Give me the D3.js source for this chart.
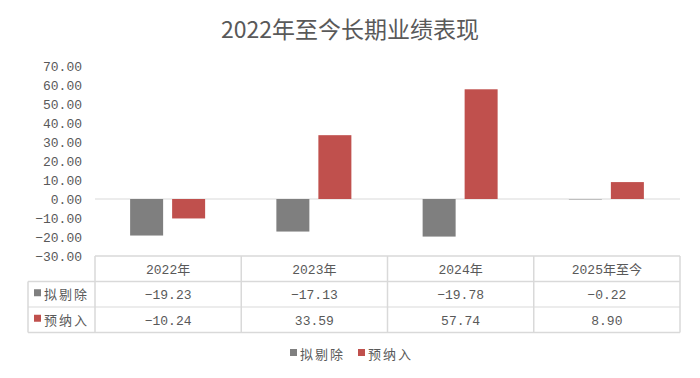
<!DOCTYPE html>
<html>
<head>
<meta charset="utf-8">
<script src="https://cdn.jsdelivr.net/npm/d3@7"></script>
<style>
  body { margin: 0; background: #fff; }
  text { font-family: "Liberation Mono", "Noto Sans CJK SC", monospace; fill: #595959; }
  .cjk { font-family: "Noto Sans CJK SC", sans-serif; }
</style>
</head>
<body>
<svg id="chart"></svg>
<script>
// Data
const categories = ['2022年', '2023年', '2024年', '2025年至今'];
const seriesNames = ['拟剔除', '预纳入'];
const excludeValues = [-19.23, -17.13, -19.78, -0.22];
const includeValues = [-10.24, 33.59, 57.74, 8.90];
const yTicks = [-30, -20, -10, 0, 10, 20, 30, 40, 50, 60, 70];
const colors = ['#7f7f7f', '#c0504d'];

const width = 700;
const height = 378;

// Plot area
const plot = { left: 95, right: 680, top: 66, bottom: 256 };
const rowHeight = 25.5;

// number format with a long minus sign
const fmt = d => d.toFixed(2).replace('-', '\u2212');

const svg = d3.select('#chart')
    .attr('width', width)
    .attr('height', height);

// Title
svg.append('text')
    .attr('class', 'cjk')
    .attr('x', width / 2)
    .attr('y', 38)
    .attr('text-anchor', 'middle')
    .style('font-size', '23px')
    .text('2022年至今长期业绩表现');

// Scales
const xScale = d3.scaleBand()
    .domain(categories)
    .range([plot.left, plot.right]);

const yScale = d3.scaleLinear()
    .domain([-30, 70])
    .range([plot.bottom, plot.top]);

// Y axis labels
const yAxis = d3.axisLeft(yScale)
    .tickValues(yTicks)
    .tickSize(0)
    .tickPadding(13)
    .tickFormat(fmt);

const yAxisG = svg.append('g')
    .attr('transform', `translate(${plot.left},0)`)
    .call(yAxis);
yAxisG.select('.domain').remove();
yAxisG.selectAll('text')
    .style('font-size', '13px')
    .style('fill', '#595959')
    .style('font-family', '"Liberation Mono", monospace');

// Zero line
svg.append('line')
    .attr('x1', plot.left)
    .attr('x2', plot.right)
    .attr('y1', yScale(0))
    .attr('y2', yScale(0))
    .attr('stroke', '#d9d9d9')
    .attr('stroke-width', 1);

// Bars
const barWidth = 33;
const series = [excludeValues, includeValues];
const offsets = [-38, 4];

series.forEach((values, i) => {
    svg.append('g')
        .selectAll('rect')
        .data(values)
        .join('rect')
        .attr('x', (d, j) => xScale(categories[j]) + xScale.bandwidth() / 2 + offsets[i])
        .attr('y', d => yScale(Math.max(0, d)))
        .attr('width', barWidth)
        .attr('height', d => Math.abs(yScale(d) - yScale(0)))
        .attr('fill', colors[i]);
});

// Data table
const table = svg.append('g');
const tableLeft = 28;
const lineColor = '#d9d9d9';

// header row top border
table.append('line')
    .attr('x1', plot.left).attr('x2', plot.right)
    .attr('y1', plot.bottom).attr('y2', plot.bottom)
    .attr('stroke', lineColor).attr('stroke-width', 1.5);

[1, 2, 3].forEach(r => {
    table.append('line')
        .attr('x1', tableLeft).attr('x2', plot.right)
        .attr('y1', plot.bottom + r * rowHeight).attr('y2', plot.bottom + r * rowHeight)
        .attr('stroke', lineColor).attr('stroke-width', r === 2 ? 1 : 1.5);
});

// vertical lines
table.append('line')
    .attr('x1', tableLeft).attr('x2', tableLeft)
    .attr('y1', plot.bottom + rowHeight).attr('y2', plot.bottom + 3 * rowHeight)
    .attr('stroke', lineColor).attr('stroke-width', 1.5);

categories.concat(['end']).forEach((c, i) => {
    const x = i < categories.length ? xScale(c) : plot.right;
    table.append('line')
        .attr('x1', x).attr('x2', x)
        .attr('y1', plot.bottom).attr('y2', plot.bottom + 3 * rowHeight)
        .attr('stroke', lineColor).attr('stroke-width', 1.5);
});

// header labels
table.selectAll('.head')
    .data(categories)
    .join('text')
    .attr('class', 'head')
    .attr('x', d => xScale(d) + xScale.bandwidth() / 2)
    .attr('y', plot.bottom + rowHeight / 2 + 5)
    .attr('text-anchor', 'middle')
    .style('font-size', '13px')
    .text(d => d);

// row labels and values
series.forEach((values, i) => {
    const rowY = plot.bottom + (i + 1) * rowHeight;
    table.append('rect')
        .attr('x', tableLeft + 6)
        .attr('y', rowY + rowHeight / 2 - 5)
        .attr('width', 7)
        .attr('height', 7)
        .attr('fill', colors[i]);
    table.append('text')
        .attr('class', 'cjk')
        .attr('x', tableLeft + 16)
        .attr('y', rowY + rowHeight / 2 + 5)
        .style('font-size', '13px')
        .style('letter-spacing', '2px')
        .text(seriesNames[i]);
    table.selectAll(null)
        .data(values)
        .join('text')
        .attr('x', (d, j) => xScale(categories[j]) + xScale.bandwidth() / 2)
        .attr('y', rowY + rowHeight / 2 + 5)
        .attr('text-anchor', 'middle')
        .style('font-size', '13px')
        .text(fmt);
});

// Legend
const legend = svg.append('g')
    .attr('transform', 'translate(290, 354)');

seriesNames.forEach((name, i) => {
    const g = legend.append('g').attr('transform', `translate(${i * 68}, 0)`);
    g.append('rect')
        .attr('x', 0)
        .attr('y', -5)
        .attr('width', 7)
        .attr('height', 7)
        .attr('fill', colors[i]);
    g.append('text')
        .attr('class', 'cjk')
        .attr('x', 10)
        .attr('y', 5)
        .style('font-size', '13px')
        .style('letter-spacing', '2px')
        .text(name);
});
</script>
</body>
</html>
